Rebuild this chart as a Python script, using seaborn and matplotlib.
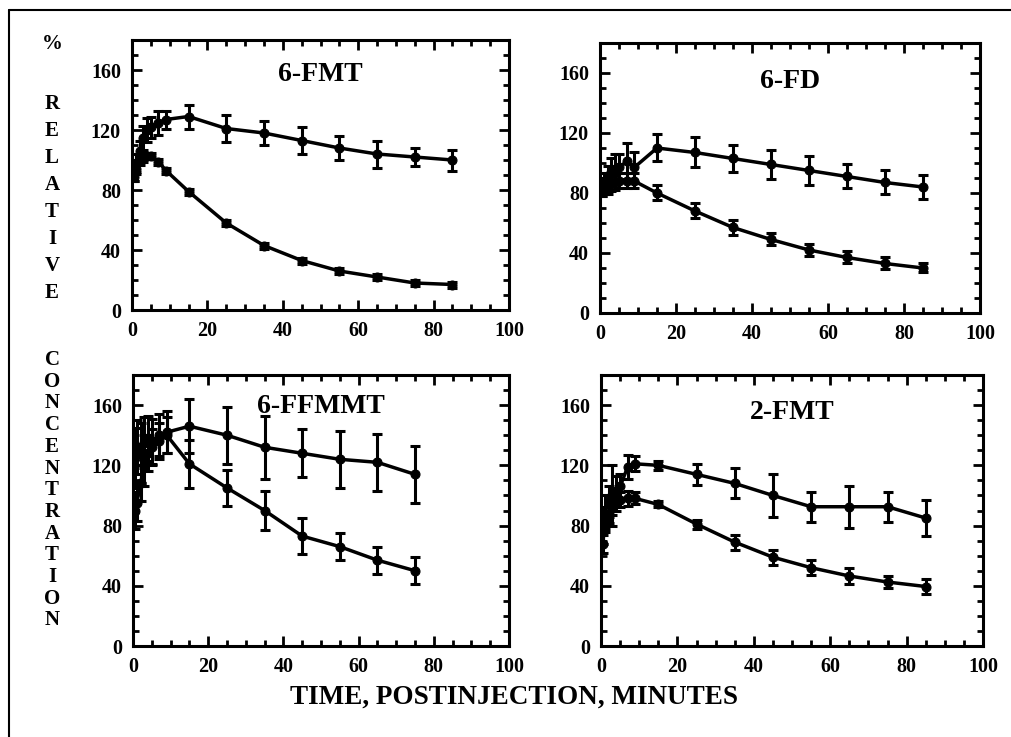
import matplotlib
matplotlib.use("Agg")
import matplotlib.pyplot as plt
from matplotlib.lines import Line2D
from matplotlib.ticker import MultipleLocator
import seaborn as sns

# time points (minutes)
t_full = [0.5, 1, 2, 3, 4, 5, 7, 9, 15, 25, 35, 45, 55, 65, 75, 85]
t_short = [0.5, 1, 2, 3, 4, 5, 7, 9, 15, 25, 35, 45, 55, 65, 75]

# 6-FMT
fmt6_up = [92, 98, 106, 115, 120, 122, 125, 127, 129, 121, 118, 113, 108, 104, 102, 100]
fmt6_up_err = [6, 6, 7, 8, 8, 7, 8, 6, 8, 9, 8, 9, 8, 9, 6, 7]
fmt6_lo = [89, 94, 100, 102, 103, 103, 99, 93, 79, 58, 43, 33, 26, 22, 18, 17]
fmt6_lo_err = [3, 3, 3, 3, 2, 2, 2, 2, 2, 2, 2, 2, 2, 2, 2, 2]

# 6-FD
fd6_up = [84, 86, 90, 94, 96, 97, 101, 97, 110, 107, 103, 99, 95, 91, 87, 84]
fd6_up_err = [6, 7, 8, 9, 10, 9, 12, 10, 9, 10, 9, 9.5, 9.5, 8, 8, 8]
fd6_lo = [82, 83, 84, 86, 87, 88, 88, 88, 80, 68, 57, 49, 42, 37, 33, 30]
fd6_lo_err = [4, 4, 5, 5, 5, 5, 5, 5, 5, 5, 5, 4, 4, 4, 4, 3]

# 6-FFMMT
ffmmt_up = [125, 132, 128, 135, 138, 136, 140, 142, 146, 140, 132, 128, 124, 122, 114]
ffmmt_up_err = [20, 18, 20, 17, 15, 15, 14, 14, 18, 19, 21, 16, 19, 19, 19]
ffmmt_lo = [90, 95, 108, 120, 128, 132, 136, 140, 121, 105, 90, 73, 66, 57, 50]
ffmmt_lo_err = [12, 12, 12, 14, 12, 12, 12, 12, 16, 12, 13, 12, 9, 9, 9]

# 2-FMT
fmt2_up = [80, 88, 96, 100, 103, 106, 119, 121, 120, 114, 108, 100, 92.5, 92.5, 92.5, 85]
fmt2_up_err = [12, 12, 10, 20, 10, 8, 8, 5, 3, 7, 10, 14, 10, 14, 10, 12]
fmt2_lo = [68, 84, 88, 92, 95, 97, 98, 98, 94, 81, 69, 59, 52, 46.5, 42.5, 39.5]
fmt2_lo_err = [6, 6, 6, 5, 5, 5, 5, 4, 2, 3, 5, 5, 5, 5, 4, 5]

panels = [
    ("6-FMT", t_full, fmt6_up, fmt6_up_err, fmt6_lo, fmt6_lo_err, (132, 509, 40, 310), 157),
    ("6-FD", t_full, fd6_up, fd6_up_err, fd6_lo, fd6_lo_err, (600, 980, 43, 313), 154),
    ("6-FFMMT", t_short, ffmmt_up, ffmmt_up_err, ffmmt_lo, ffmmt_lo_err, (133, 509, 375, 646), 159),
    ("2-FMT", t_full, fmt2_up, fmt2_up_err, fmt2_lo, fmt2_lo_err, (601, 983, 375, 646), 155),
]

sns.set_style("ticks")
plt.rcParams['font.family'] = ['Liberation Serif', 'DejaVu Serif']
plt.rcParams['font.weight'] = 'bold'
plt.rcParams['text.color'] = 'black'
plt.rcParams['xtick.color'] = 'black'
plt.rcParams['ytick.color'] = 'black'
plt.rcParams['axes.edgecolor'] = 'black'

W, H = 1011, 737
fig = plt.figure(figsize=(W / 100, H / 100), dpi=100)

for title, t, up, up_err, lo, lo_err, (l, r, top, b), ty in panels:
    ax = fig.add_axes([l / W, 1 - b / H, (r - l) / W, (b - top) / H])
    for y, e in ((up, up_err), (lo, lo_err)):
        ax.errorbar(t, y, yerr=e, fmt='none', ecolor='black', elinewidth=2.2,
                    capsize=3.5, capthick=2.2, zorder=3)
        sns.lineplot(x=t, y=y, ax=ax, color='black', lw=2.5, marker='o',
                     markersize=6.5, markeredgecolor='black', zorder=4)
    ax.set_xlim(0, 100)
    ax.set_ylim(0, 180)
    ax.xaxis.set_major_locator(MultipleLocator(20))
    ax.xaxis.set_minor_locator(MultipleLocator(5))
    ax.yaxis.set_major_locator(MultipleLocator(40))
    ax.yaxis.set_minor_locator(MultipleLocator(10))
    ax.set_yticks([0, 40, 80, 120, 160])
    ax.tick_params(which='both', direction='in', top=True, right=True,
                   width=2, labelsize=14.5, pad=8, colors='black')
    ax.tick_params(which='major', length=7)
    ax.tick_params(which='minor', length=4)
    for lab in ax.get_xticklabels() + ax.get_yticklabels():
        lab.set_fontweight('bold')
    for sp in ax.spines.values():
        sp.set_linewidth(2.2)
        sp.set_color('black')
    ax.set_xlabel('')
    ax.set_ylabel('')
    ax.text(50, ty, title, ha='center', va='center', fontsize=20,
            fontweight='bold', color='black')

# vertical y-axis label, one letter per line
letters = [("%", 44)]
letters += [(c, 104 + 27 * i) for i, c in enumerate("RELATIVE")]
letters += [(c, 360 + 21.7 * i) for i, c in enumerate("CONCENTRATION")]
for c, y in letters:
    fig.text(52 / W, 1 - y / H, c, ha='center', va='center', fontsize=15,
             fontweight='bold', color='black')

fig.text(514 / W, 1 - 697 / H, "TIME, POSTINJECTION, MINUTES", ha='center',
         va='center', fontsize=19.5, fontweight='bold', color='black')

# outer frame (only left and top edges visible)
fig.add_artist(Line2D([9 / W, 9 / W], [0, 1 - 10 / H], color='black', lw=1.5,
                      transform=fig.transFigure))
fig.add_artist(Line2D([9 / W, 1], [1 - 10 / H, 1 - 10 / H], color='black',
                      lw=1.5, transform=fig.transFigure))

fig.savefig("out.png", dpi=100)
